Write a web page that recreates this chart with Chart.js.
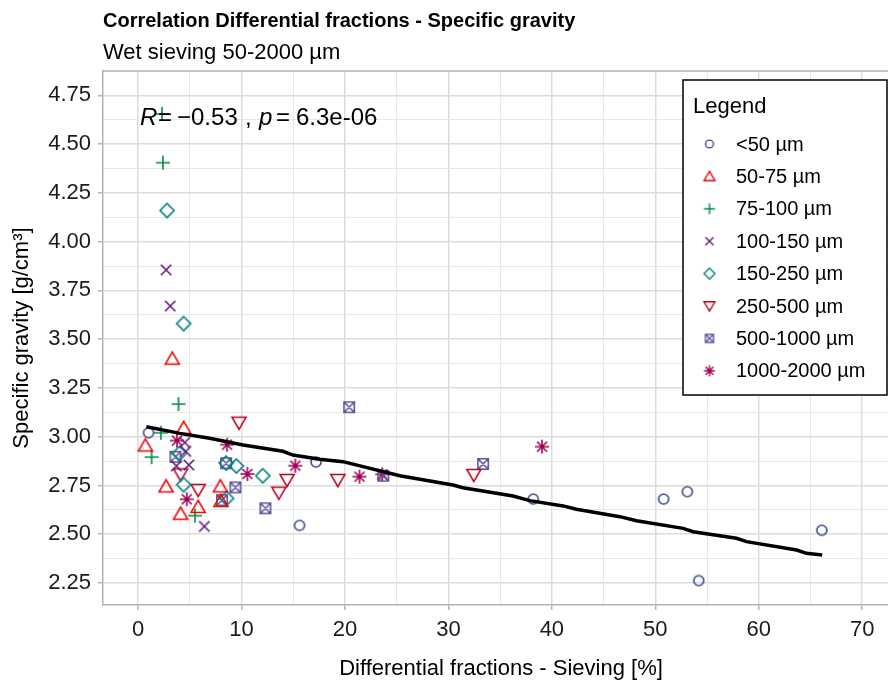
<!DOCTYPE html>
<html>
<head>
<meta charset="utf-8">
<script src="https://cdn.jsdelivr.net/npm/chart.js@4/dist/chart.umd.min.js"></script>
<style>
  html, body { margin: 0; padding: 0; background: #fff; }
  #wrap { width: 888px; height: 684px; }
</style>
</head>
<body>
<div id="wrap"><canvas id="chart" width="888" height="684"></canvas></div>
<script>
const FONT = '"Liberation Sans", Arial, Helvetica, sans-serif';

// series (x = differential fraction %, y = specific gravity)
const seriesNames = ['<50 µm', '50-75 µm', '75-100 µm', '100-150 µm', '150-250 µm', '250-500 µm', '500-1000 µm', '1000-2000 µm'];
const seriesColors = ['#3B4992', '#EE0000', '#008B45', '#631879', '#008280', '#BB0021', '#5F559B', '#A20056'];
const seriesShapes = ['circle', 'triangle', 'plus', 'cross', 'diamond', 'triangleDown', 'boxX', 'asterisk'];

const lt50X = [1.0, 15.6, 17.2, 38.2, 50.8, 53.1, 54.2, 66.1];
const lt50Y = [3.02, 2.545, 2.87, 2.68, 2.68, 2.718, 2.262, 2.52];
const f50X = [0.7, 4.4, 2.7, 7.95, 4.1, 5.8, 3.3, 8.0];
const f50Y = [2.955, 3.045, 2.745, 2.745, 2.605, 2.64, 3.40, 2.67];
const f75X = [2.3, 2.4, 3.9, 2.2, 1.3, 5.5];
const f75Y = [4.655, 4.405, 3.167, 3.02, 2.895, 2.595];
const f100X = [2.7, 3.1, 6.4, 4.9, 3.7, 4.5, 4.6];
const f100Y = [3.855, 3.67, 2.54, 2.855, 2.85, 2.97, 2.925];
const f150X = [2.8, 4.4, 8.5, 9.5, 12.05, 8.55, 4.4, 4.0];
const f150Y = [4.16, 3.58, 2.865, 2.85, 2.80, 2.684, 2.754, 2.915];
const f250X = [9.75, 13.6, 14.4, 5.8, 4.1, 32.45, 19.3];
const f250Y = [3.072, 2.713, 2.778, 2.727, 2.807, 2.804, 2.778];
const f500X = [20.4, 8.5, 9.4, 8.1, 12.3, 23.7, 33.35, 3.6];
const f500Y = [3.151, 2.864, 2.74, 2.675, 2.633, 2.80, 2.86, 2.897];
const f1000X = [39.05, 8.6, 10.56, 15.2, 21.4, 23.6, 4.7, 3.75];
const f1000Y = [2.949, 2.959, 2.809, 2.851, 2.795, 2.807, 2.679, 2.98];

const seriesX = [lt50X, f50X, f75X, f100X, f150X, f250X, f500X, f1000X];
const seriesY = [lt50Y, f50Y, f75Y, f100Y, f150Y, f250Y, f500Y, f1000Y];

// fitted trend line
const trendX = [0.79, 3.21, 4.01, 6.91, 10.14, 14.0, 14.97, 17.55, 19.8, 25.3, 30.44, 31.4, 36.25, 37.86, 41.08, 42.38, 46.57, 48.18, 52.69, 53.66, 57.85, 58.82, 63.66, 64.62, 66.13];
const trendY = [3.051, 3.026, 3.017, 2.992, 2.957, 2.925, 2.906, 2.884, 2.872, 2.80, 2.752, 2.738, 2.696, 2.672, 2.645, 2.628, 2.59, 2.569, 2.53, 2.513, 2.479, 2.462, 2.419, 2.402, 2.393];

const xTicks = [0, 5, 10, 15, 20, 25, 30, 35, 40, 45, 50, 55, 60, 65, 70];
const yTicks = [2.25, 2.375, 2.5, 2.625, 2.75, 2.875, 3.0, 3.125, 3.25, 3.375, 3.5, 3.625, 3.75, 3.875, 4.0, 4.125, 4.25, 4.375, 4.5, 4.625, 4.75];

const isMajorX = v => Math.abs(v % 10) < 1e-6;
const isMajorY = v => Math.abs(v * 4 - Math.round(v * 4)) < 1e-6;

function makeMarker(shape, color, s, lw) {
  const size = Math.ceil(s * 1.6 + lw * 2 + 2);
  const c = document.createElement('canvas');
  c.width = size; c.height = size;
  const g = c.getContext('2d');
  const cx = size / 2, cy = size / 2, r = s / 2;
  g.strokeStyle = color; g.lineWidth = lw; g.lineJoin = 'miter';
  g.beginPath();
  if (shape === 'circle') {
    g.arc(cx, cy, r, 0, Math.PI * 2);
  } else if (shape === 'triangle' || shape === 'triangleDown') {
    const w = s * 1.4, h = w * 0.866, d = shape === 'triangle' ? 1 : -1;
    g.moveTo(cx, cy - d * h * 0.55);
    g.lineTo(cx + w / 2, cy + d * h * 0.45);
    g.lineTo(cx - w / 2, cy + d * h * 0.45);
    g.closePath();
  } else if (shape === 'plus') {
    const a = s * 0.7;
    g.moveTo(cx - a, cy); g.lineTo(cx + a, cy);
    g.moveTo(cx, cy - a); g.lineTo(cx, cy + a);
  } else if (shape === 'cross') {
    const a = s * 0.52;
    g.moveTo(cx - a, cy - a); g.lineTo(cx + a, cy + a);
    g.moveTo(cx + a, cy - a); g.lineTo(cx - a, cy + a);
  } else if (shape === 'diamond') {
    const a = r * 1.4;
    g.moveTo(cx, cy - a); g.lineTo(cx + a, cy); g.lineTo(cx, cy + a); g.lineTo(cx - a, cy);
    g.closePath();
  } else if (shape === 'boxX') {
    const a = s * 0.52;
    g.rect(cx - a, cy - a, 2 * a, 2 * a);
    g.moveTo(cx - a, cy - a); g.lineTo(cx + a, cy + a);
    g.moveTo(cx + a, cy - a); g.lineTo(cx - a, cy + a);
  } else if (shape === 'asterisk') {
    const a = s * 0.7, b = s * 0.5;
    g.moveTo(cx - a, cy); g.lineTo(cx + a, cy);
    g.moveTo(cx, cy - a); g.lineTo(cx, cy + a);
    g.moveTo(cx - b, cy - b); g.lineTo(cx + b, cy + b);
    g.moveTo(cx + b, cy - b); g.lineTo(cx - b, cy + b);
  }
  g.stroke();
  return c;
}

const plotMarkers = seriesShapes.map((sh, i) => makeMarker(sh, seriesColors[i], 10, 1.6));
const legendMarkers = seriesShapes.map((sh, i) => makeMarker(sh, seriesColors[i], 7.8, 1.4));

const datasets = seriesNames.map((name, i) => ({
  type: 'scatter',
  label: name,
  data: seriesX[i].map((x, j) => ({ x: x, y: seriesY[i][j] })),
  pointStyle: plotMarkers[i],
  pointRadius: 6,
  order: 2
}));
datasets.push({
  type: 'line',
  label: 'trend',
  data: trendX.map((x, j) => ({ x: x, y: trendY[j] })),
  borderColor: '#000',
  borderWidth: 3.5,
  pointRadius: 0,
  tension: 0,
  fill: false,
  order: 1
});

const decor = {
  id: 'decor',
  afterDraw(chart) {
    const ctx = chart.ctx, a = chart.chartArea;
    ctx.save();
    // top panel border
    ctx.strokeStyle = '#b3b3b3'; ctx.lineWidth = 1.5;
    ctx.beginPath(); ctx.moveTo(a.left, a.top); ctx.lineTo(a.right, a.top); ctx.stroke();

    // titles
    ctx.fillStyle = '#000'; ctx.textBaseline = 'alphabetic'; ctx.textAlign = 'left';
    ctx.font = 'bold 20px ' + FONT;
    ctx.fillText('Correlation Differential fractions - Specific gravity', 103, 27);
    ctx.font = '22px ' + FONT;
    ctx.fillText('Wet sieving 50-2000 µm', 103, 59);

    // x axis title
    ctx.textAlign = 'center';
    ctx.fillText('Differential fractions - Sieving [%]', 501, 675);
    ctx.textAlign = 'left';

    // correlation label
    ctx.font = 'italic 24px ' + FONT;
    ctx.fillText('R', 140, 125);
    ctx.fillText('p', 259, 125);
    ctx.font = '24px ' + FONT;
    ctx.fillText('=', 158, 125);
    ctx.fillText('\u22120.53', 177, 125);
    ctx.fillText(',', 245, 125);
    ctx.fillText('=', 276, 125);
    ctx.fillText('6.3e-06', 296, 125);

    // legend
    ctx.fillStyle = '#fff';
    ctx.fillRect(683, 80, 204, 315);
    ctx.strokeStyle = '#000'; ctx.lineWidth = 1.5;
    ctx.strokeRect(683, 80, 204, 315);
    ctx.fillStyle = '#000';
    ctx.font = '22px ' + FONT;
    ctx.fillText('Legend', 693, 113);
    ctx.font = '20px ' + FONT;
    ctx.textBaseline = 'middle';
    seriesNames.forEach((name, i) => {
      const y = 145 + i * 32.4;
      const m = legendMarkers[i];
      ctx.drawImage(m, 709.5 - m.width / 2, y - 1 - m.height / 2);
      ctx.fillText(name, 736, y);
    });
    ctx.restore();
  }
};

new Chart(document.getElementById('chart'), {
  data: { datasets: datasets },
  options: {
    responsive: false,
    devicePixelRatio: 1,
    animation: false,
    layout: { autoPadding: false, padding: { top: 71, right: 0, left: 0, bottom: 0 } },
    plugins: { legend: { display: false }, tooltip: { enabled: false } },
    scales: {
      x: {
        type: 'linear',
        min: -3.4,
        max: 72.5,
        afterBuildTicks: s => { s.ticks = xTicks.map(v => ({ value: v })); },
        afterFit: s => { s.height = 79; s.paddingLeft = 0; s.paddingRight = 0; },
        ticks: {
          autoSkip: false, maxRotation: 0, padding: 7, color: '#1a1a1a',
          font: { family: FONT, size: 22 },
          callback: v => isMajorX(v) ? String(v) : ''
        },
        grid: {
          color: c => (c.tick && isMajorX(c.tick.value)) ? '#dcdcdc' : '#e8e8e8',
          lineWidth: c => (c.tick && isMajorX(c.tick.value)) ? 1.5 : 1,
          tickLength: 5,
          tickColor: c => (c.tick && isMajorX(c.tick.value)) ? '#b3b3b3' : 'rgba(0,0,0,0)',
          tickWidth: 1.5
        },
        border: { color: '#b3b3b3', width: 1.5 },
        title: { display: false }
      },
      y: {
        type: 'linear',
        min: 2.137,
        max: 4.875,
        afterBuildTicks: s => { s.ticks = yTicks.map(v => ({ value: v })); },
        afterFit: s => { s.width = 103; s.paddingTop = 0; s.paddingBottom = 0; },
        ticks: {
          autoSkip: false, padding: 7, color: '#1a1a1a',
          font: { family: FONT, size: 22 },
          callback: v => isMajorY(v) ? v.toFixed(2) : ''
        },
        grid: {
          color: c => (c.tick && isMajorY(c.tick.value)) ? '#dcdcdc' : '#e8e8e8',
          lineWidth: c => (c.tick && isMajorY(c.tick.value)) ? 1.5 : 1,
          tickLength: 5,
          tickColor: c => (c.tick && isMajorY(c.tick.value)) ? '#b3b3b3' : 'rgba(0,0,0,0)',
          tickWidth: 1.5
        },
        border: { color: '#b3b3b3', width: 1.5 },
        title: {
          display: true, text: 'Specific gravity [g/cm³]', color: '#000',
          font: { family: FONT, size: 22 }, padding: { top: 9, bottom: 0 }
        }
      }
    }
  },
  plugins: [decor]
});
</script>
</body>
</html>
